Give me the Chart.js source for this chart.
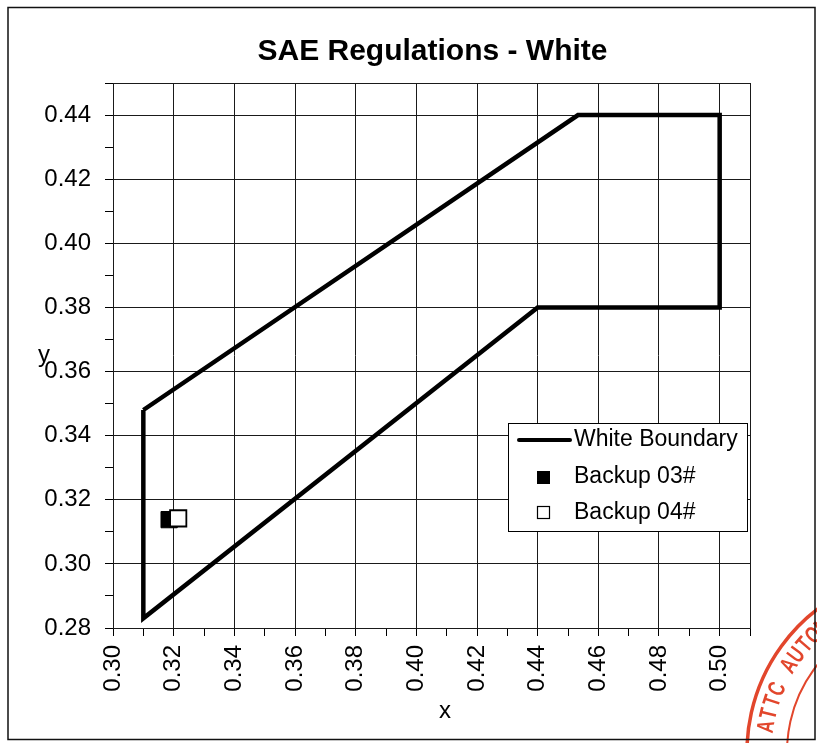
<!DOCTYPE html>
<html>
<head>
<meta charset="utf-8">
<script src="https://cdn.jsdelivr.net/npm/chart.js@4/dist/chart.umd.min.js"></script>
<style>
  html, body { margin: 0; padding: 0; background: #fff; }
  #grafico { display: block; }
</style>
</head>
<body>
<canvas id="grafico" width="817" height="743"></canvas>
<script>
// fronteira do branco (SAE), fechada
const boundaryX = [0.310, 0.4533, 0.500, 0.500, 0.440, 0.310, 0.310];
const boundaryY = [0.348, 0.440, 0.440, 0.380, 0.380, 0.283, 0.348];

const backup03X = [0.3185];
const backup03Y = [0.3138];
const backup04X = [0.3215];
const backup04Y = [0.3142];

const xTicks = [0.30, 0.31, 0.32, 0.33, 0.34, 0.35, 0.36, 0.37, 0.38, 0.39, 0.40,
                0.41, 0.42, 0.43, 0.44, 0.45, 0.46, 0.47, 0.48, 0.49, 0.50, 0.51];
const yTicks = [0.28, 0.29, 0.30, 0.31, 0.32, 0.33, 0.34, 0.35, 0.36, 0.37, 0.38,
                0.39, 0.40, 0.41, 0.42, 0.43, 0.44, 0.45];

const tituloGrafico = 'SAE Regulations - White';
const nomesSeries = ['White Boundary', 'Backup 03#', 'Backup 04#'];

const fonte = '"Liberation Sans", Arial, sans-serif';

function pontos(xs, ys) {
    return xs.map((x, i) => ({ x, y: ys[i] }));
}

function ehMaior(v) {
    return Math.round(v * 100) % 2 === 0;
}

function corGrade(ctx) {
    return ctx.tick && ehMaior(ctx.tick.value) ? '#1a1a1a' : 'rgba(0,0,0,0)';
}

const decoracao = {
    id: 'decoracao',
    beforeDraw(chart) {
        const ctx = chart.ctx;
        ctx.save();
        ctx.fillStyle = '#fff';
        ctx.fillRect(0, 0, chart.width, chart.height);
        ctx.restore();
    },
    beforeDatasetsDraw(chart) {
        const { ctx, chartArea: a } = chart;
        ctx.save();
        ctx.strokeStyle = '#1a1a1a';
        ctx.lineWidth = 1;
        ctx.strokeRect(a.left + 0.5, a.top + 0.5, a.right - a.left, a.bottom - a.top);
        ctx.restore();
    },
    afterDraw(chart) {
        const { ctx, chartArea: a } = chart;
        ctx.save();

        // titulo
        ctx.fillStyle = '#000';
        ctx.font = 'bold 30px ' + fonte;
        ctx.textAlign = 'center';
        ctx.textBaseline = 'middle';
        ctx.fillText(tituloGrafico, (a.left + a.right) / 2 + 1, 52);

        // titulos dos eixos
        ctx.font = '24px ' + fonte;
        ctx.fillText('x', a.left + 332, a.bottom + 83);
        ctx.fillText('y', 44, a.top + 272);

        // legenda
        const lx = a.right - 242, ly = a.top + 340, lw = 239, lh = 108;
        ctx.fillStyle = '#fff';
        ctx.fillRect(lx, ly, lw, lh);
        ctx.strokeStyle = '#000';
        ctx.lineWidth = 1;
        ctx.strokeRect(lx + 0.5, ly + 0.5, lw, lh);

        ctx.textAlign = 'left';
        ctx.font = '23px ' + fonte;
        ctx.fillStyle = '#000';

        ctx.beginPath();
        ctx.lineWidth = 4;
        ctx.lineCap = 'round';
        ctx.moveTo(lx + 11, ly + 17);
        ctx.lineTo(lx + 62, ly + 17);
        ctx.stroke();
        ctx.fillText(nomesSeries[0], lx + 66, ly + 17);

        ctx.fillRect(lx + 29, ly + 48, 13, 13);
        ctx.fillText(nomesSeries[1], lx + 66, ly + 54);

        ctx.lineWidth = 1.2;
        ctx.strokeRect(lx + 29.5, ly + 83.5, 12, 12);
        ctx.fillText(nomesSeries[2], lx + 66, ly + 90);

        // carimbo vermelho no canto
        const cx = 927, cy = 752;
        ctx.strokeStyle = '#e2462c';
        ctx.fillStyle = '#e2462c';
        ctx.lineCap = 'butt';
        ctx.lineWidth = 3.5;
        ctx.beginPath();
        ctx.arc(cx, cy, 180, Math.PI * 0.95, Math.PI * 1.5);
        ctx.stroke();
        ctx.lineWidth = 2;
        ctx.beginPath();
        ctx.arc(cx, cy, 140, Math.PI * 0.95, Math.PI * 1.5);
        ctx.stroke();
        ctx.font = 'bold 24px ' + fonte;
        ctx.textAlign = 'center';
        ctx.textBaseline = 'middle';
        const letras = 'ATTC AUTOMOTIVE';
        for (let i = 0; i < letras.length; i++) {
            const ang = (-171 + i * 4.6) * Math.PI / 180;
            ctx.save();
            ctx.translate(cx + 162 * Math.cos(ang), cy + 162 * Math.sin(ang));
            ctx.rotate(ang + Math.PI / 2);
            ctx.scale(0.7, 1);
            ctx.fillText(letras[i], 0, 0);
            ctx.restore();
        }

        // moldura externa
        ctx.strokeStyle = '#111';
        ctx.lineWidth = 1.5;
        ctx.strokeRect(8, 7.5, 807, 732);
        ctx.restore();
    }
};

new Chart(document.getElementById('grafico'), {
    type: 'scatter',
    data: {
        datasets: [
            {
                label: nomesSeries[0],
                data: pontos(boundaryX, boundaryY),
                showLine: true,
                borderColor: '#000',
                borderWidth: 4.5,
                borderJoinStyle: 'miter',
                pointRadius: 0,
                fill: false,
                tension: 0,
                order: 3
            },
            {
                label: nomesSeries[1],
                data: pontos(backup03X, backup03Y),
                pointStyle: 'rect',
                pointRadius: 11.5,
                backgroundColor: '#000',
                borderColor: '#000',
                borderWidth: 1,
                order: 2
            },
            {
                label: nomesSeries[2],
                data: pontos(backup04X, backup04Y),
                pointStyle: 'rect',
                pointRadius: 11.5,
                backgroundColor: '#fff',
                borderColor: '#000',
                borderWidth: 1.8,
                order: 1
            }
        ]
    },
    options: {
        responsive: false,
        animation: false,
        devicePixelRatio: 1,
        events: [],
        layout: { padding: { left: 20, right: 67, top: 83, bottom: 15 } },
        plugins: {
            legend: { display: false },
            title: { display: false },
            tooltip: { enabled: false }
        },
        scales: {
            x: {
                type: 'linear',
                min: 0.30,
                max: 0.51,
                afterBuildTicks: s => { s.ticks = xTicks.map(v => ({ value: v })); },
                afterFit: s => { s.height = 100; },
                border: { color: '#000', width: 1 },
                grid: { color: corGrade, tickColor: '#000', tickLength: 8, lineWidth: 1 },
                ticks: {
                    autoSkip: false,
                    minRotation: 90,
                    maxRotation: 90,
                    padding: 9,
                    color: '#000',
                    font: { family: fonte, size: 24 },
                    callback: v => ehMaior(v) ? v.toFixed(2) : ''
                }
            },
            y: {
                type: 'linear',
                min: 0.28,
                max: 0.45,
                afterBuildTicks: s => { s.ticks = yTicks.map(v => ({ value: v })); },
                afterFit: s => { s.width = 93; },
                border: { color: '#000', width: 1 },
                grid: { color: corGrade, tickColor: '#000', tickLength: 8, lineWidth: 1 },
                ticks: {
                    autoSkip: false,
                    padding: 14,
                    color: '#000',
                    font: { family: fonte, size: 24 },
                    callback: v => ehMaior(v) ? v.toFixed(2) : ''
                }
            }
        }
    },
    plugins: [decoracao]
});
</script>
</body>
</html>
